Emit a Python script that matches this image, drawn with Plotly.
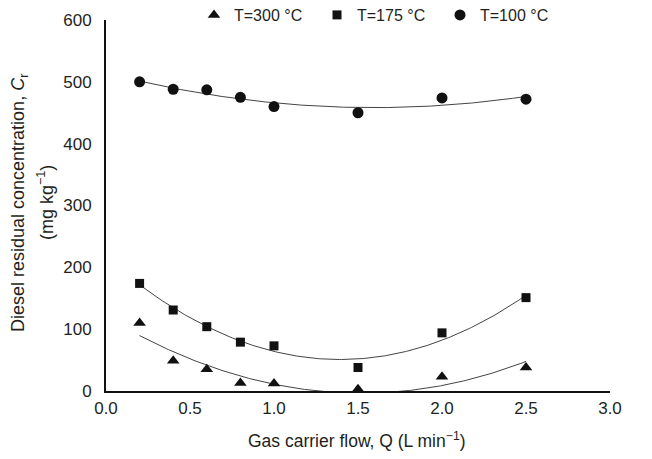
import numpy as np
import plotly.graph_objects as go

flow = [0.2, 0.4, 0.6, 0.8, 1.0, 1.5, 2.0, 2.5]
t300 = [110, 49, 35, 13, 12, 3, 23, 38]
t175 = [174, 131, 104, 79, 73, 38, 94, 151]
t100 = [500, 488, 487, 475, 460, 450, 474, 472]

series = [
    ("T=300 °C", t300, "triangle-up", 11),
    ("T=175 °C", t175, "square", 9),
    ("T=100 °C", t100, "circle", 11),
]

fig = go.Figure()
xs = np.linspace(min(flow), max(flow), 200)
for name, ys, sym, sz in series:
    coef = np.polyfit(flow, ys, 2)
    fig.add_trace(go.Scatter(x=xs, y=np.polyval(coef, xs), mode="lines",
                             line=dict(color="#444", width=1), showlegend=False,
                             hoverinfo="skip"))
for name, ys, sym, sz in series:
    fig.add_trace(go.Scatter(x=flow, y=ys, mode="markers", name=name,
                             marker=dict(symbol=sym, size=sz, color="#111")))

OFF = 8  # page body margin
W, H = 644, 451
L, T = 98, 12
R, B = 42, 68
pw, ph = W - L - R, H - T - B


def px(xp):
    return (xp - OFF - L) / pw


def py(yp):
    return (T + ph - (yp - OFF)) / ph


fig.update_layout(
    width=W, height=H,
    margin=dict(l=L, r=R, t=T, b=B, autoexpand=False),
    paper_bgcolor="white", plot_bgcolor="white",
    font=dict(family="Liberation Sans", size=16, color="#231f20"),
    legend=dict(orientation="h", xref="container", yref="container",
                x=186 / W, xanchor="left", y=1 - 7 / H, yanchor="middle",
                font=dict(size=16), itemwidth=30, entrywidth=78,
                bgcolor="rgba(0,0,0,0)"),
    xaxis=dict(range=[0, 3.0], dtick=0.5, tickformat=".1f", showgrid=False, zeroline=False,
               showline=True, linecolor="#111", linewidth=2, ticks="",
               tickfont=dict(size=17), automargin=False, ticklabelstandoff=1),
    yaxis=dict(range=[0, 600], dtick=100, showgrid=False, zeroline=False,
               showline=True, linecolor="#111", linewidth=2, ticks="",
               tickfont=dict(size=17), automargin=False, ticklabelstandoff=9),
    annotations=[
        dict(text="Gas carrier flow, Q (L min<sup>−1</sup>)", xref="paper", yref="paper",
             x=px(357), y=py(440), xanchor="center", yanchor="middle",
             showarrow=False, font=dict(size=17.5)),
        dict(text="Diesel residual concentration, <i>C</i><sub>r</sub>", xref="paper", yref="paper",
             x=px(19), y=py(203), xanchor="center", yanchor="middle",
             textangle=-90, showarrow=False, font=dict(size=18)),
        dict(text="(mg kg<sup>−1</sup>)", xref="paper", yref="paper",
             x=px(45), y=py(203), xanchor="center", yanchor="middle",
             textangle=-90, showarrow=False, font=dict(size=18)),
    ],
)

fig.write_html("out.html")
